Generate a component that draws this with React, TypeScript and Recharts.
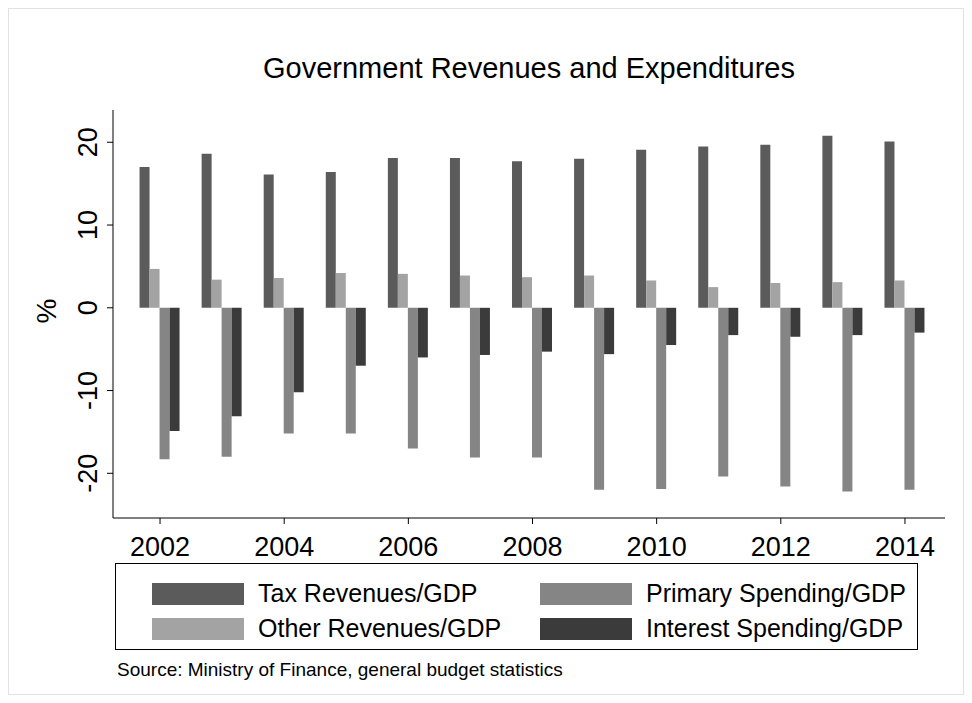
import React from 'react';
import { BarChart, Bar, XAxis, YAxis } from 'recharts';

const years = ['2002', '2003', '2004', '2005', '2006', '2007', '2008', '2009', '2010', '2011', '2012', '2013', '2014'];
const taxRevenues = [17.0, 18.6, 16.1, 16.4, 18.1, 18.1, 17.7, 18.0, 19.1, 19.5, 19.7, 20.8, 20.1];
const otherRevenues = [4.7, 3.4, 3.6, 4.2, 4.1, 3.9, 3.7, 3.9, 3.3, 2.5, 3.0, 3.1, 3.3];
const primarySpending = [-18.3, -18.0, -15.2, -15.2, -17.0, -18.1, -18.1, -22.0, -21.9, -20.4, -21.6, -22.2, -22.0];
const interestSpending = [-14.9, -13.1, -10.2, -7.0, -6.0, -5.7, -5.3, -5.6, -4.5, -3.3, -3.5, -3.3, -3.0];
const yTicks = [-20, -10, 0, 10, 20];

const data = years.map((y, i) => ({
  year: y,
  tax: taxRevenues[i],
  other: otherRevenues[i],
  primary: primarySpending[i],
  interest: interestSpending[i],
}));

const colors = { tax: '#5b5b5b', other: '#a3a3a3', primary: '#858585', interest: '#3b3b3b' };
const font = '"Liberation Sans", Arial, sans-serif';

const YTick = (props: any) => {
  const { x, y, payload } = props;
  return (
    <text x={x - 8} y={y} transform={`rotate(-90, ${x - 8}, ${y})`} textAnchor="middle" fontSize={27} fill="#000" fontFamily={font}>
      {payload.value}
    </text>
  );
};

const XTick = (props: any) => {
  const { x, y, payload } = props;
  return (
    <text x={x} y={y + 30} textAnchor="middle" fontSize={27} fill="#000" fontFamily={font}>
      {payload.value}
    </text>
  );
};

const Swatch = ({ color, label, left, top }: { color: string; label: string; left: number; top: number }) => (
  <div style={{ position: 'absolute', left, top, display: 'flex', alignItems: 'center' }}>
    <div style={{ width: 92, height: 22, background: color }} />
    <span style={{ marginLeft: 14, fontSize: 25, fontFamily: font }}>{label}</span>
  </div>
);

export default function App() {
  return (
    <div style={{ position: 'relative', width: 956, height: 687, border: '1px solid #e2e2e2', boxSizing: 'border-box', background: '#fff' }}>
      <div style={{ position: 'absolute', left: 0, top: 0 }}>
        <BarChart width={956} height={570} data={data} margin={{ top: 101, right: 20, left: 44, bottom: 0 }} barCategoryGap="17%" barGap={0}>
          <XAxis
            dataKey="year"
            interval={1}
            padding={{ left: 16, right: 9 }}
            stroke="#000"
            tickSize={6}
            height={61}
            tick={<XTick />}
          />
          <YAxis
            domain={[-25.4, 23.9]}
            ticks={yTicks}
            width={60}
            stroke="#000"
            tickSize={6}
            tick={<YTick />}
          />
          <Bar dataKey="tax" fill={colors.tax} isAnimationActive={false} />
          <Bar dataKey="other" fill={colors.other} isAnimationActive={false} />
          <Bar dataKey="primary" fill={colors.primary} isAnimationActive={false} />
          <Bar dataKey="interest" fill={colors.interest} isAnimationActive={false} />
        </BarChart>
      </div>
      <div style={{ position: 'absolute', left: 0, width: 1040, top: 43, textAlign: 'center', fontSize: 29, fontFamily: font }}>
        Government Revenues and Expenditures
      </div>
      <div style={{ position: 'absolute', left: 26, top: 286, fontSize: 28, fontFamily: font, transform: 'rotate(-90deg)' }}>%</div>
      <div style={{ position: 'absolute', left: 106, top: 554, width: 803, height: 87, border: '1px solid #000', boxSizing: 'border-box', background: '#fff' }}>
        <Swatch color={colors.tax} label="Tax Revenues/GDP" left={36} top={15} />
        <Swatch color={colors.primary} label="Primary Spending/GDP" left={424} top={15} />
        <Swatch color={colors.other} label="Other Revenues/GDP" left={36} top={50} />
        <Swatch color={colors.interest} label="Interest Spending/GDP" left={424} top={50} />
      </div>
      <div style={{ position: 'absolute', left: 108, top: 650, fontSize: 19, fontFamily: font }}>
        Source: Ministry of Finance, general budget statistics
      </div>
    </div>
  );
}
